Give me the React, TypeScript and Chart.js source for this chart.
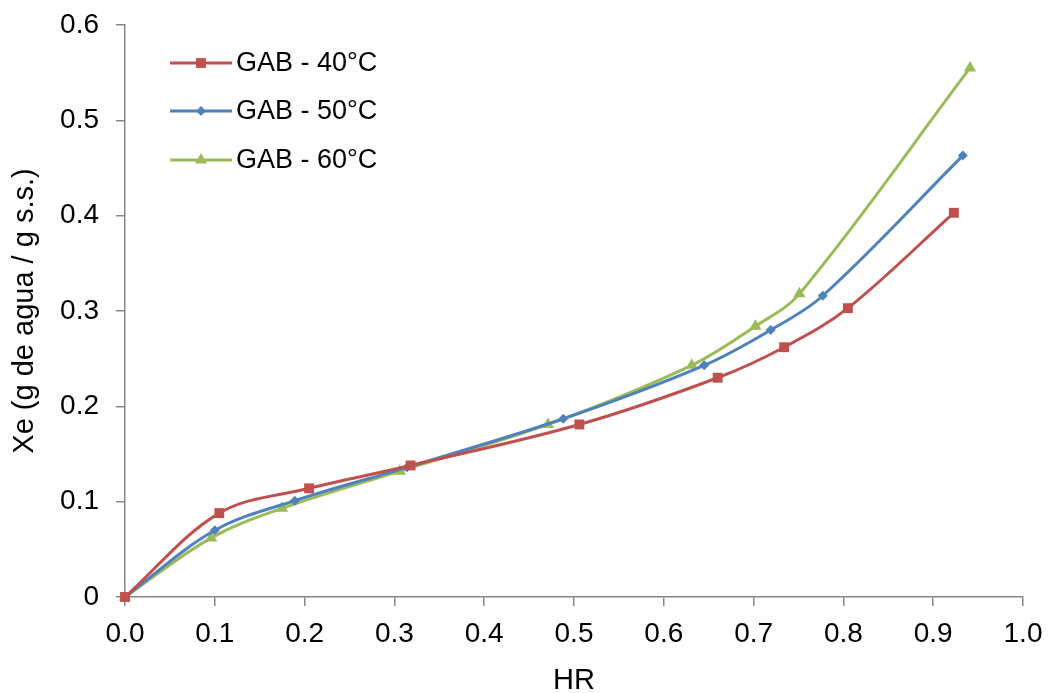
import React, { useEffect, useRef } from "react";
import { Chart, registerables } from "chart.js";

Chart.register(...registerables);

const seriesNames = ["GAB - 40°C", "GAB - 50°C", "GAB - 60°C"];
const hr40 = [0, 0.105, 0.205, 0.318, 0.506, 0.66, 0.734, 0.805, 0.923];
const xe40 = [0, 0.088, 0.114, 0.138, 0.181, 0.23, 0.262, 0.303, 0.403];
const hr50 = [0, 0.1, 0.189, 0.314, 0.488, 0.645, 0.719, 0.777, 0.933];
const xe50 = [0, 0.07, 0.101, 0.136, 0.187, 0.243, 0.28, 0.316, 0.463];
const hr60 = [0, 0.096, 0.175, 0.306, 0.471, 0.631, 0.702, 0.751, 0.941];
const xe60 = [0, 0.062, 0.093, 0.132, 0.181, 0.243, 0.284, 0.318, 0.555];
const colors = ["#C0504D", "#4F81BD", "#9BBB59"];
const markers = ["rect", "rectRot", "triangle"];
const markerRadius = [7, 5, 7];

const FONT = "'Liberation Sans', Arial, sans-serif";
const AXIS = "#868686";

function drawMarker(ctx: CanvasRenderingContext2D, style: string, x: number, y: number, r: number) {
  ctx.beginPath();
  if (style === "rect") {
    const s = Math.SQRT1_2 * r;
    ctx.rect(x - s, y - s, 2 * s, 2 * s);
  } else if (style === "rectRot") {
    ctx.moveTo(x, y - r);
    ctx.lineTo(x + r, y);
    ctx.lineTo(x, y + r);
    ctx.lineTo(x - r, y);
    ctx.closePath();
  } else {
    ctx.moveTo(x, y - r);
    ctx.lineTo(x + r * 0.866, y + r * 0.5);
    ctx.lineTo(x - r * 0.866, y + r * 0.5);
    ctx.closePath();
  }
  ctx.fill();
}

const legendPlugin = {
  id: "insideLegend",
  afterDraw(chart: any) {
    const ctx = chart.ctx as CanvasRenderingContext2D;
    ctx.save();
    const rows = [63, 111, 160];
    chart.data.datasets.forEach((ds: any, i: number) => {
      const y = rows[i];
      ctx.strokeStyle = ds.borderColor;
      ctx.lineWidth = 3;
      ctx.beginPath();
      ctx.moveTo(170, y);
      ctx.lineTo(232, y);
      ctx.stroke();
      ctx.fillStyle = ds.borderColor;
      drawMarker(ctx, markers[i], 201, y, markerRadius[i]);
      ctx.fillStyle = "#000";
      ctx.font = `27px ${FONT}`;
      ctx.textBaseline = "middle";
      ctx.textAlign = "left";
      ctx.fillText(ds.label, 236, y + 1);
    });
    ctx.restore();
  },
};

export default function App() {
  const ref = useRef<HTMLCanvasElement>(null);
  useEffect(() => {
    if (!ref.current) return;
    const mk = (xs: number[], ys: number[]) => xs.map((x, i) => ({ x, y: ys[i] }));
    const data = [mk(hr40, xe40), mk(hr50, xe50), mk(hr60, xe60)];
    const chart = new Chart(ref.current, {
      type: "scatter",
      data: {
        datasets: data.map((d, i) => ({
          label: seriesNames[i],
          data: d,
          showLine: true,
          borderColor: colors[i],
          backgroundColor: colors[i],
          pointBackgroundColor: colors[i],
          pointBorderWidth: 0,
          pointStyle: markers[i] as any,
          pointRadius: markerRadius[i],
          borderWidth: 3,
          tension: 0.35,
          clip: false as any,
        })),
      },
      options: {
        animation: false,
        responsive: false,
        layout: { padding: { top: 25, right: 30, left: 0, bottom: 0 } },
        plugins: { legend: { display: false }, tooltip: { enabled: false } },
        scales: {
          x: {
            type: "linear",
            min: 0,
            max: 1,
            ticks: {
              stepSize: 0.1,
              color: "#000",
              font: { family: FONT, size: 28 },
              padding: 11,
              callback: (v: any) => Number(v).toFixed(1),
            },
            grid: { display: true, drawOnChartArea: false, drawTicks: true, tickLength: 9, color: AXIS, lineWidth: 1.5 },
            border: { color: AXIS, width: 1.5 },
            title: { display: true, text: "HR", color: "#000", font: { family: FONT, size: 29, lineHeight: 0.85 }, padding: { top: 4, bottom: 0 } },
            afterFit: (s: any) => { s.height = 96; s.paddingLeft = 0; s.paddingRight = 0; },
          },
          y: {
            type: "linear",
            min: 0,
            max: 0.6,
            ticks: {
              stepSize: 0.1,
              color: "#000",
              font: { family: FONT, size: 28 },
              padding: 17,
              callback: (v: any) => (Number(v) === 0 ? "0" : Number(v).toFixed(1)),
            },
            grid: { display: true, drawOnChartArea: false, drawTicks: true, tickLength: 9, color: AXIS, lineWidth: 1.5 },
            border: { color: AXIS, width: 1.5 },
            title: { display: true, text: "Xe (g de agua / g s.s.)", color: "#000", font: { family: FONT, size: 29 }, padding: { top: 8, bottom: 0 } },
            afterFit: (s: any) => { s.width = 125; s.paddingTop = 0; s.paddingBottom = 0; },
          },
        },
      },
      plugins: [legendPlugin],
    });
    return () => chart.destroy();
  }, []);
  return (
    <div style={{ position: "fixed", left: 0, top: 0, width: 1053, height: 693, background: "#fff" }}>
      <canvas ref={ref} width={1053} height={693} style={{ width: 1053, height: 693 }} />
    </div>
  );
}
